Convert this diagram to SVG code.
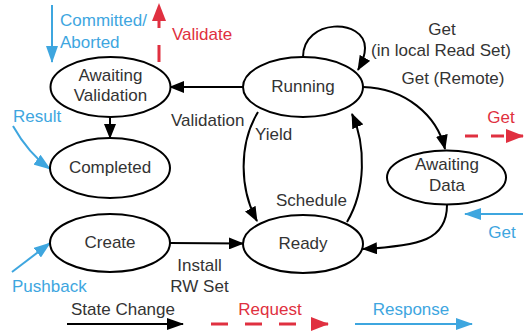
<svg xmlns="http://www.w3.org/2000/svg" width="529" height="331" viewBox="0 0 529 331">
  <style>
    text { font-family: "Liberation Sans", Arial, sans-serif; font-size: 17px; fill: #333; }
    .c { text-anchor: middle; }
    .blue { fill: #3ea6df; }
    .red { fill: #e03040; }
    .node { fill: #fff; stroke: #000; stroke-width: 2; }
    .edge { fill: none; stroke: #000; stroke-width: 2; marker-end: url(#ah-black); }
    .req { fill: none; stroke: #e03040; stroke-width: 3; stroke-dasharray: 17 17; marker-end: url(#ah-red); }
    .resp { fill: none; stroke: #3ea6df; stroke-width: 2; marker-end: url(#ah-blue); }
  </style>
  <defs>
    <marker id="ah-black" viewBox="0 0 15 12" refX="14" refY="6" markerWidth="15" markerHeight="12" markerUnits="userSpaceOnUse" orient="auto">
      <path d="M0,0 L15,6 L0,12 Z" fill="#000"/>
    </marker>
    <marker id="ah-red" viewBox="0 0 18 14" refX="17" refY="7" markerWidth="18" markerHeight="14" markerUnits="userSpaceOnUse" orient="auto">
      <path d="M0,0 L18,7 L0,14 Z" fill="#e03040"/>
    </marker>
    <marker id="ah-blue" viewBox="0 0 17 12" refX="16" refY="6" markerWidth="17" markerHeight="12" markerUnits="userSpaceOnUse" orient="auto">
      <path d="M0,0 L17,6 L0,12 Z" fill="#3ea6df"/>
    </marker>
  </defs>

  <!-- state transitions -->
  <g id="connectors">
    <path class="edge" d="M243,87 L170,87"/>
    <path class="edge" d="M110,117 L110,138"/>
    <path class="edge" d="M303,57 C303,18 365,18 365,48 C365,56 362,63 358,70"/>
    <path class="edge" d="M363,87 C405,88 437,115 445,149"/>
    <path class="edge" d="M447,205 C447,240 420,246 363,249"/>
    <path class="edge" d="M258,112 C238,145 240,190 257,221"/>
    <path class="edge" d="M347,222 C366,190 366,145 352,114"/>
    <path class="edge" d="M170,243 L243,243.5"/>

    <!-- requests and responses -->
    <path class="resp" d="M52,5 L52,62"/>
    <path class="req" d="M159,62 L159,4"/>
    <path class="resp" d="M13,126 C22,142 32,156 50,169"/>
    <path class="resp" d="M12,272 L50,243"/>
    <path class="req" d="M465,136 L523,136" style="stroke-dasharray: 13 13"/>
    <path class="resp" d="M523,214 L465,214"/>
  </g>

  <g id="awaiting-validation">
    <ellipse class="node" cx="110.5" cy="87" rx="60" ry="30"/>
    <text class="c" x="110.5" y="81">Awaiting</text>
    <text class="c" x="110.5" y="101">Validation</text>
  </g>
  <g id="running">
    <ellipse class="node" cx="303" cy="87" rx="60" ry="30"/>
    <text class="c" x="303" y="92">Running</text>
  </g>
  <g id="completed">
    <ellipse class="node" cx="110" cy="168" rx="60" ry="30"/>
    <text class="c" x="110" y="173">Completed</text>
  </g>
  <g id="awaiting-data">
    <ellipse class="node" cx="446.5" cy="177.5" rx="59.5" ry="27"/>
    <text class="c" x="447" y="170">Awaiting</text>
    <text class="c" x="447" y="191">Data</text>
  </g>
  <g id="create">
    <ellipse class="node" cx="110" cy="243" rx="60" ry="29"/>
    <text class="c" x="110" y="248">Create</text>
  </g>
  <g id="ready">
    <ellipse class="node" cx="303" cy="244" rx="60" ry="29"/>
    <text class="c" x="303" y="249">Ready</text>
  </g>

  <!-- transition labels -->
  <g id="labels">
    <text x="171" y="126">Validation</text>
    <text x="255" y="140">Yield</text>
    <text x="276" y="206">Schedule</text>
    <text class="c" x="442" y="35">Get</text>
    <text class="c" x="441" y="56">(in local Read Set)</text>
    <text class="c" x="453" y="84">Get (Remote)</text>
    <text class="c" x="199.5" y="271">Install</text>
    <text class="c" x="199.5" y="292">RW Set</text>
    <text class="blue" x="60" y="26">Committed/</text>
    <text class="blue" x="60" y="48">Aborted</text>
    <text class="red" x="172" y="40">Validate</text>
    <text class="blue" x="13" y="122">Result</text>
    <text class="blue" x="12" y="292">Pushback</text>
    <text class="red c" x="501" y="123">Get</text>
    <text class="blue c" x="502" y="238">Get</text>
  </g>

  <!-- legend -->
  <g id="legend">
    <path class="edge" d="M67,324 L183,324" style="marker-end: url(#ah-legend-black)"/>
    <text class="c" x="123" y="315">State Change</text>
    <path class="req" d="M211,324 L328,324"/>
    <text class="red c" x="270" y="315">Request</text>
    <path class="resp" d="M355,324 L472,324"/>
    <text class="blue c" x="411" y="315">Response</text>
  </g>
  <defs>
    <marker id="ah-legend-black" viewBox="0 0 17 12" refX="16" refY="6" markerWidth="17" markerHeight="12" markerUnits="userSpaceOnUse" orient="auto">
      <path d="M0,0 L17,6 L0,12 Z" fill="#000"/>
    </marker>
  </defs>
</svg>
